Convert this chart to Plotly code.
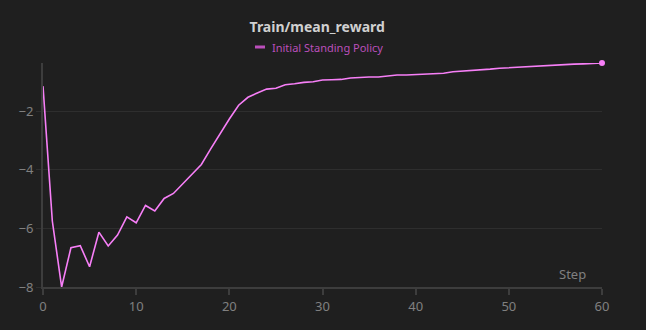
import plotly.graph_objects as go

steps = list(range(61))
reward = [-1.15, -5.75, -8.0, -6.66, -6.59, -7.31, -6.13, -6.60, -6.23, -5.61,
          -5.81, -5.22, -5.41, -4.98, -4.81, -4.49, -4.15, -3.82, -3.29, -2.76,
          -2.27, -1.80, -1.53, -1.38, -1.25, -1.22, -1.10, -1.07, -1.02, -1.00,
          -0.94, -0.93, -0.92, -0.87, -0.85, -0.84, -0.84, -0.81, -0.77, -0.77,
          -0.75, -0.73, -0.73, -0.71, -0.66, -0.64, -0.63, -0.59, -0.57, -0.54,
          -0.52, -0.51, -0.49, -0.47, -0.45, -0.44, -0.42, -0.40, -0.39, -0.38,
          -0.36]
series_name = "Initial Standing Policy"
title_text = "Train/mean_reward"
x_ticks = [0, 10, 20, 30, 40, 50, 60]
y_ticks = [-8, -6, -4, -2]

line_color = "#f77ff7"
legend_color = "#bb4fbb"
tick_color = "#808080"
bg = "#1f1f1f"

W, H = 646, 330
L, R, T, B = 43, 44, 63, 43
pw, ph = W - L - R, H - T - B


def px_x(p):
    return (p - L) / pw


def px_y(p):
    return (H - B - p) / ph


fig = go.Figure()
fig.add_trace(go.Scatter(
    x=steps, y=reward, mode="lines", name=series_name, showlegend=False,
    line=dict(color=line_color, width=1.6), cliponaxis=False,
))
fig.add_trace(go.Scatter(
    x=[steps[-1]], y=[reward[-1]], mode="markers", showlegend=False,
    marker=dict(color=line_color, size=6), cliponaxis=False,
))

fig.update_layout(
    width=W, height=H,
    paper_bgcolor=bg, plot_bgcolor=bg,
    margin=dict(l=L, r=R, t=T, b=B, autoexpand=False),
    font=dict(family="Noto Sans, Open Sans, sans-serif", color=tick_color, size=13),
    title=dict(text="<b>" + title_text + "</b>", x=0.491, xanchor="center",
               y=1 - 27 / H, yanchor="middle",
               font=dict(size=14, color="#d0d0d0")),
    showlegend=False,
    xaxis=dict(range=[0, 60], tickvals=x_ticks, showgrid=False, zeroline=False,
               showline=True, linecolor="#3d3d3d", linewidth=2,
               ticks="outside", ticklen=6, tickwidth=2, tickcolor="#3d3d3d",
               tickfont=dict(size=13, color=tick_color)),
    yaxis=dict(range=[-8, -0.36], tickvals=y_ticks, showgrid=True,
               gridcolor="#2e2e2e", gridwidth=1, zeroline=False,
               showline=True, linecolor="#3d3d3d", linewidth=2,
               ticks="outside", ticklen=5, tickwidth=1, tickcolor="#2e2e2e",
               tickfont=dict(size=13, color=tick_color)),
    annotations=[
        dict(text="Step", xref="x", yref="y", x=58.5, y=-8,
             xanchor="right", yanchor="bottom", yshift=2, showarrow=False,
             font=dict(size=13, color=tick_color)),
        dict(text=series_name, xref="paper", yref="paper",
             x=px_x(270), y=px_y(47), xanchor="left", yanchor="middle",
             showarrow=False, font=dict(size=11, color=legend_color)),
    ],
    shapes=[dict(type="line", xref="paper", yref="paper",
                 x0=px_x(255), x1=px_x(265), y0=px_y(47), y1=px_y(47),
                 line=dict(color=legend_color, width=3))],
)

fig.write_html("out.html")
